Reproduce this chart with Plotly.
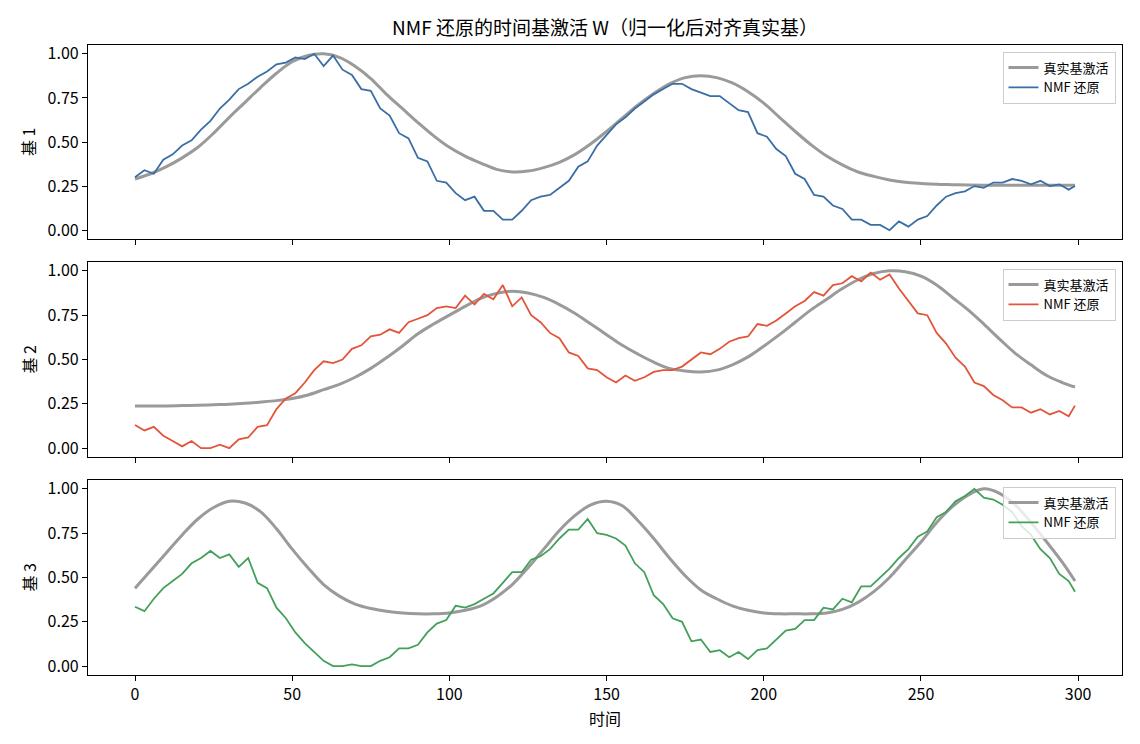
import plotly.graph_objects as go
from plotly.subplots import make_subplots

# ---------------- data ----------------
t_true = list(range(0, 300, 5)) + [299]
t_nmf = list(range(0, 300, 3)) + [299]

true_1 = [0.29, 0.32, 0.36, 0.41, 0.47, 0.55, 0.64, 0.725, 0.81, 0.89,
          0.955, 0.99, 1.0, 0.98, 0.93, 0.86, 0.77, 0.69, 0.61, 0.535,
          0.47, 0.42, 0.38, 0.345, 0.33, 0.335, 0.355, 0.385, 0.43, 0.49,
          0.56, 0.635, 0.71, 0.775, 0.83, 0.865, 0.875, 0.865, 0.835, 0.785,
          0.72, 0.64, 0.56, 0.485, 0.42, 0.37, 0.33, 0.305, 0.285, 0.272,
          0.265, 0.26, 0.258, 0.256, 0.255, 0.255, 0.255, 0.255, 0.255, 0.255,
          0.255]
true_2 = [0.237, 0.237, 0.238, 0.24, 0.242, 0.245, 0.248, 0.253, 0.26, 0.268,
          0.28, 0.30, 0.33, 0.36, 0.40, 0.45, 0.51, 0.575, 0.645, 0.70,
          0.75, 0.80, 0.845, 0.873, 0.885, 0.875, 0.85, 0.81, 0.76, 0.70,
          0.64, 0.58, 0.53, 0.485, 0.45, 0.435, 0.43, 0.44, 0.47, 0.515,
          0.575, 0.64, 0.71, 0.78, 0.84, 0.90, 0.95, 0.985, 1.0, 0.995,
          0.97, 0.92, 0.85, 0.78, 0.70, 0.615, 0.535, 0.47, 0.41, 0.37,
          0.345]
true_3 = [0.44, 0.54, 0.64, 0.74, 0.83, 0.895, 0.93, 0.92, 0.87, 0.775,
          0.66, 0.555, 0.46, 0.395, 0.35, 0.325, 0.31, 0.30, 0.295, 0.295,
          0.30, 0.315, 0.34, 0.39, 0.46, 0.555, 0.66, 0.765, 0.85, 0.91,
          0.93, 0.905, 0.82, 0.72, 0.61, 0.51, 0.43, 0.38, 0.34, 0.315,
          0.30, 0.295, 0.295, 0.295, 0.30, 0.32, 0.36, 0.42, 0.50, 0.60,
          0.70, 0.81, 0.90, 0.965, 1.0, 0.975, 0.91, 0.81, 0.70, 0.585,
          0.48]

nmf_1 = [0.30, 0.34, 0.32, 0.40, 0.43, 0.48, 0.51, 0.57, 0.62, 0.69,
         0.74, 0.80, 0.83, 0.87, 0.90, 0.94, 0.95, 0.98, 0.97, 1.00,
         0.93, 0.99, 0.91, 0.88, 0.80, 0.79, 0.69, 0.65, 0.55, 0.52,
         0.41, 0.39, 0.28, 0.27, 0.21, 0.17, 0.19, 0.11, 0.11, 0.06,
         0.06, 0.11, 0.17, 0.19, 0.20, 0.24, 0.28, 0.36, 0.39, 0.48,
         0.54, 0.60, 0.64, 0.69, 0.73, 0.77, 0.80, 0.83, 0.83, 0.80,
         0.78, 0.76, 0.76, 0.72, 0.68, 0.67, 0.55, 0.53, 0.46, 0.42,
         0.32, 0.29, 0.20, 0.19, 0.14, 0.12, 0.06, 0.06, 0.03, 0.03,
         0.00, 0.05, 0.02, 0.06, 0.08, 0.14, 0.19, 0.21, 0.22, 0.25,
         0.24, 0.27, 0.27, 0.29, 0.28, 0.26, 0.28, 0.25, 0.26, 0.23,
         0.25]
nmf_2 = [0.13, 0.10, 0.12, 0.07, 0.04, 0.01, 0.04, 0.00, 0.00, 0.02,
         0.00, 0.05, 0.06, 0.12, 0.13, 0.22, 0.28, 0.31, 0.37, 0.44,
         0.49, 0.48, 0.50, 0.56, 0.58, 0.63, 0.64, 0.67, 0.65, 0.71,
         0.73, 0.75, 0.79, 0.80, 0.79, 0.86, 0.81, 0.87, 0.84, 0.92,
         0.80, 0.85, 0.75, 0.71, 0.65, 0.62, 0.54, 0.52, 0.45, 0.44,
         0.40, 0.37, 0.41, 0.38, 0.40, 0.43, 0.44, 0.44, 0.46, 0.50,
         0.54, 0.53, 0.56, 0.60, 0.62, 0.63, 0.70, 0.69, 0.72, 0.76,
         0.80, 0.83, 0.88, 0.86, 0.92, 0.93, 0.97, 0.94, 0.99, 0.95,
         0.98, 0.90, 0.83, 0.76, 0.75, 0.65, 0.59, 0.51, 0.46, 0.37,
         0.35, 0.30, 0.27, 0.23, 0.23, 0.20, 0.22, 0.19, 0.21, 0.18,
         0.24]
nmf_3 = [0.335, 0.31, 0.38, 0.44, 0.48, 0.52, 0.58, 0.61, 0.65, 0.61,
         0.63, 0.56, 0.61, 0.47, 0.44, 0.33, 0.27, 0.19, 0.13, 0.08,
         0.03, 0.00, 0.00, 0.01, 0.00, 0.00, 0.03, 0.05, 0.10, 0.10,
         0.12, 0.19, 0.24, 0.26, 0.34, 0.33, 0.35, 0.38, 0.41, 0.47,
         0.53, 0.53, 0.60, 0.62, 0.66, 0.72, 0.77, 0.77, 0.83, 0.75,
         0.74, 0.72, 0.68, 0.58, 0.53, 0.40, 0.35, 0.27, 0.25, 0.14,
         0.15, 0.08, 0.09, 0.05, 0.08, 0.04, 0.09, 0.10, 0.15, 0.20,
         0.21, 0.26, 0.26, 0.33, 0.32, 0.38, 0.36, 0.45, 0.45, 0.50,
         0.55, 0.61, 0.66, 0.73, 0.76, 0.84, 0.87, 0.93, 0.96, 1.00,
         0.95, 0.94, 0.91, 0.87, 0.79, 0.74, 0.66, 0.61, 0.52, 0.48,
         0.42]

row_labels = ["基 1", "基 2", "基 3"]
x_ticks = [0, 50, 100, 150, 200, 250, 300]
y_ticks = [0.0, 0.25, 0.5, 0.75, 1.0]
title_text = "NMF 还原的时间基激活 W（归一化后对齐真实基）"
x_label = "时间"
name_true = "真实基激活"
name_nmf = "NMF 还原"

# ---------------- style ----------------
FONT = "Noto Sans CJK SC, Liberation Sans, sans-serif"
colors = ["#3a6ea5", "#e2553a", "#43a05a"]
gray = "#9a9a9a"
W, H = 1140, 744
ML, MR, MT, MB = 88, 18, 45, 69
plot_h = H - MT - MB
rows_px = [(45, 239), (262, 457), (480, 675)]
domains = [[(H - MB - b) / plot_h, (H - MB - t) / plot_h] for t, b in rows_px]
domains[0][1] = 1.0
domains[2][0] = 0.0

fig = make_subplots(rows=3, cols=1, shared_xaxes=True, vertical_spacing=0.03)
trues = [true_1, true_2, true_3]
nmfs = [nmf_1, nmf_2, nmf_3]
legs = ["legend", "legend2", "legend3"]
for i in range(3):
    fig.add_trace(go.Scatter(x=t_true, y=trues[i], mode="lines", name=name_true,
                             line=dict(color=gray, width=3, shape="spline", smoothing=1.0),
                             legend=legs[i], showlegend=True), row=i + 1, col=1)
    fig.add_trace(go.Scatter(x=t_nmf, y=nmfs[i], mode="lines", name=name_nmf,
                             line=dict(color=colors[i], width=1.8),
                             legend=legs[i], showlegend=True), row=i + 1, col=1)

layout = dict(
    width=W, height=H,
    margin=dict(l=ML, r=MR, t=MT, b=MB),
    plot_bgcolor="white", paper_bgcolor="white",
    font=dict(family=FONT, size=16, color="black"),
    title=dict(text=title_text, x=(ML + (W - ML - MR) / 2) / W, xanchor="center",
               y=1 - 28 / H, yanchor="middle", yref="container",
               font=dict(family=FONT, size=19, color="black")),
)
for i in range(3):
    sfx = "" if i == 0 else str(i + 1)
    layout["xaxis" + sfx] = dict(
        range=[-14.95, 313.95], tickvals=x_ticks, ticks="outside", ticklen=5,
        tickwidth=1.2, tickcolor="black", showline=True, linecolor="black",
        linewidth=1.2, mirror=True, showgrid=False, zeroline=False,
        showticklabels=(i == 2), tickfont=dict(size=16),
    )
    layout["yaxis" + sfx] = dict(
        domain=domains[i], range=[-0.05, 1.05], tickvals=y_ticks, tickformat=".2f",
        ticks="outside", ticklen=5, tickwidth=1.2, tickcolor="black",
        showline=True, linecolor="black", linewidth=1.2, mirror=True,
        showgrid=False, zeroline=False, tickfont=dict(size=16),
    )
    top_px = rows_px[i][0]
    layout[legs[i]] = dict(
        x=(W - MR - 6.5 - ML) / (W - ML - MR), xanchor="right",
        y=(H - MB - top_px - 6.5) / plot_h, yanchor="top",
        bgcolor="rgba(255,255,255,0.8)", bordercolor="#cccccc", borderwidth=1,
        font=dict(family=FONT, size=13, color="black"),
        tracegroupgap=0, itemwidth=30,
    )

fig.update_layout(**layout)

ann = []
for i in range(3):
    t, b = rows_px[i]
    ann.append(dict(text=row_labels[i], xref="paper", yref="paper",
                    x=(28 - ML) / (W - ML - MR), y=(H - MB - (t + b) / 2) / plot_h,
                    xanchor="center", yanchor="middle", textangle=-90, showarrow=False,
                    font=dict(family=FONT, size=16, color="black")))
ann.append(dict(text=x_label, xref="paper", yref="paper",
                x=0.5, y=(H - MB - 718) / plot_h, xanchor="center", yanchor="middle",
                showarrow=False, font=dict(family=FONT, size=16, color="black")))
fig.update_layout(annotations=ann)

fig.write_html("out.html")
